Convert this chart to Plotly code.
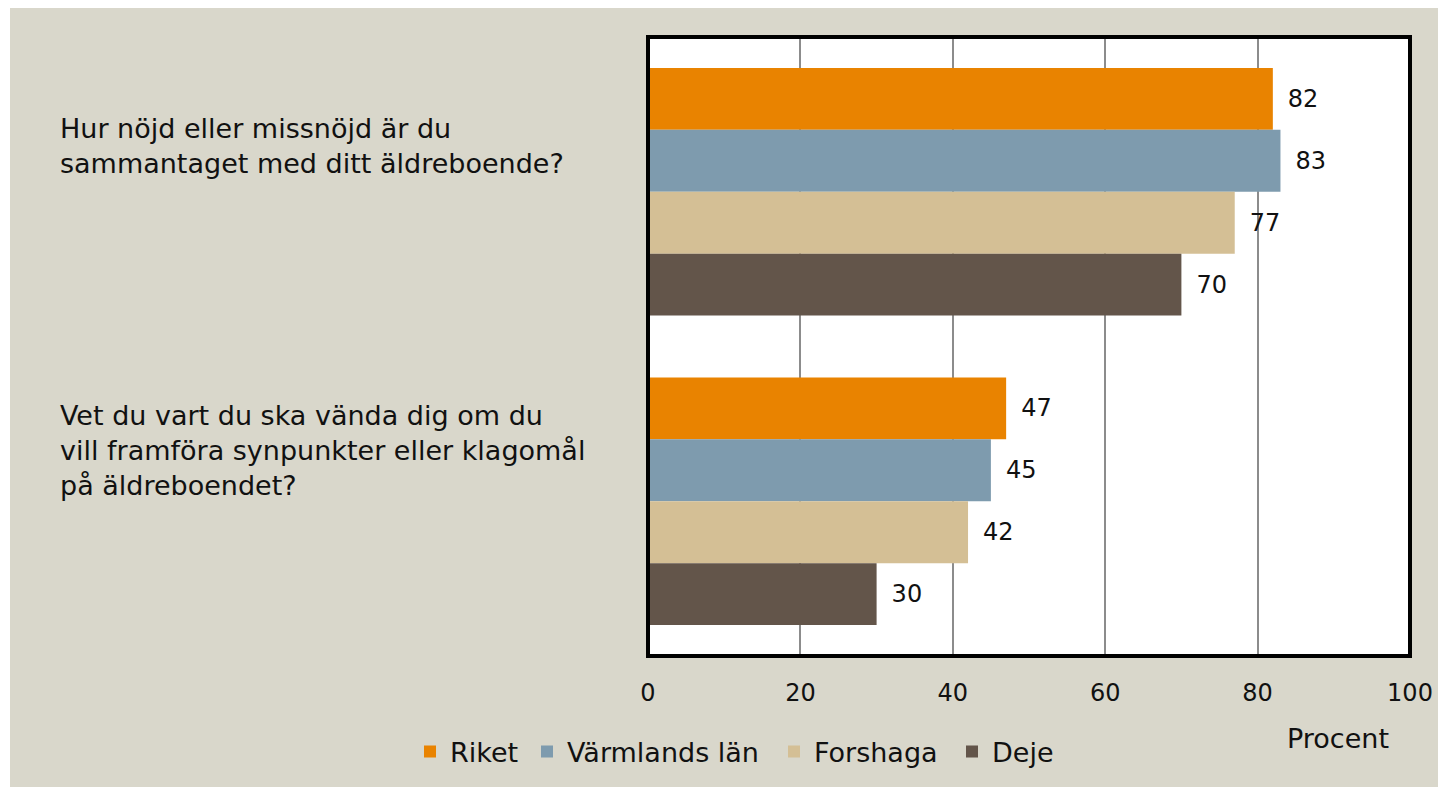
import plotly.graph_objects as go

categories = ["Hur nöjd eller missnöjd är du<br>sammantaget med ditt äldreboende?",
              "Vet du vart du ska vända dig om du<br>vill framföra synpunkter eller klagomål<br>på äldreboendet?"]
series_names = ["Riket", "Värmlands län", "Forshaga", "Deje"]
riket = [82, 47]
varmland = [83, 45]
forshaga = [77, 42]
deje = [70, 30]
x_ticks = [0, 20, 40, 60, 80, 100]

colors = ["#E98300", "#7E9BAE", "#D4BF95", "#63554A"]
FONT = "DejaVu Sans"
FS_NUM = 24
FS_TXT = 27
W, H = 1438, 779
L, R, T, B = 640, 36, 29, 130

pw = W - L - R
ph = H - T - B
def px(xpix):
    return (xpix - 8 - L) / pw
def py(ypix):
    return (H - B - (ypix - 8)) / ph

legend_text_x = [450, 567, 814, 992]
legend_names = ["legend", "legend2", "legend3", "legend4"]

fig = go.Figure()
for name, vals, col, lg in zip(series_names, [riket, varmland, forshaga, deje], colors, legend_names):
    fig.add_trace(go.Bar(
        y=["c0", "c1"], x=vals, name=name, orientation="h",
        marker=dict(color=col, line=dict(width=0)),
        text=["\u2002" + str(v) for v in vals], textposition="outside",
        textfont=dict(size=FS_NUM, color="#111111", family=FONT),
        cliponaxis=False, legend=lg,
    ))

annotations = [
    dict(text=categories[0], x=px(58), y=py(146), xref="paper", yref="paper",
         xanchor="left", yanchor="middle", align="left", showarrow=False,
         font=dict(size=FS_TXT, color="#111111", family=FONT)),
    dict(text=categories[1], x=px(58), y=py(451), xref="paper", yref="paper",
         xanchor="left", yanchor="middle", align="left", showarrow=False,
         font=dict(size=FS_TXT, color="#111111", family=FONT)),
    dict(text="Procent", x=px(1338), y=py(740), xref="paper", yref="paper",
         xanchor="center", yanchor="middle", showarrow=False,
         font=dict(size=FS_TXT, color="#111111", family=FONT)),
]

legend_common = dict(orientation="h", yanchor="middle", xanchor="left",
                     font=dict(size=FS_TXT, color="#111111", family=FONT),
                     bgcolor="rgba(0,0,0,0)", itemwidth=30)
legends = {}
for lg, tx in zip(legend_names, legend_text_x):
    legends[lg] = dict(legend_common, x=px(tx - 40), y=py(752))

fig.update_layout(
    width=W, height=H,
    margin=dict(l=L, r=R, t=T, b=B, pad=0),
    paper_bgcolor="white",
    plot_bgcolor="white",
    barmode="group", bargap=0.2, bargroupgap=0,
    font=dict(family=FONT, size=FS_NUM, color="#111111"),
    xaxis=dict(range=[0, 100], tickvals=x_ticks, showgrid=True, gridcolor="#8C8C8C",
               gridwidth=1.5, zeroline=False, showline=False,
               tickfont=dict(size=FS_NUM, color="#111111", family=FONT),
               ticks="", ticklabelstandoff=20),
    yaxis=dict(autorange="reversed", showticklabels=False, showgrid=False,
               zeroline=False, showline=False, ticks=""),
    showlegend=True,
    annotations=annotations,
    shapes=[
        dict(type="rect", xref="paper", yref="paper", x0=px(10), x1=px(1446), y0=py(800), y1=py(7),
             fillcolor="#D9D7CB", line=dict(width=0), layer="below"),
        dict(type="rect", xref="paper", yref="paper", x0=0, x1=1, y0=0, y1=1,
             fillcolor="white", line=dict(width=0), layer="below"),
        dict(type="rect", xref="paper", yref="paper", x0=0, x1=1, y0=0, y1=1,
             line=dict(color="black", width=4), layer="above"),
    ],
    **legends,
)

fig.write_html("out.html")
